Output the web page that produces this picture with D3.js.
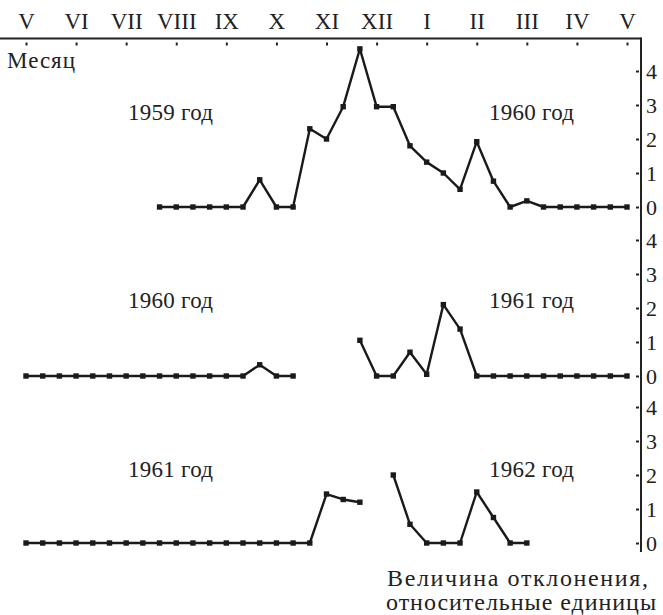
<!DOCTYPE html>
<html>
<head>
<meta charset="utf-8">
<script src="https://cdn.jsdelivr.net/npm/d3@7"></script>
<style>
  body { margin: 0; background: #fff; }
  svg text { font-family: "Liberation Serif", "Times New Roman", serif; fill: #222; }
  .axis path { display: none; }
  .axis line { stroke: #222; }
</style>
</head>
<body>
<div class="layout"></div>
<script>
// months along the top (V 1959 ... V 1960), one tick every 3 ten-day periods
var months = ["V", "VI", "VII", "VIII", "IX", "X", "XI", "XII", "I", "II", "III", "IV", "V"];
var yTicks = [0, 1, 2, 3, 4];

// ten-day period index (0..36) and deviation value, split into drawn segments
var p1959 = [
  [[8, 0], [9, 0], [10, 0], [11, 0], [12, 0], [13, 0], [14, 0.8], [15, 0], [16, 0],
   [17, 2.3], [18, 2.0], [19, 2.95], [20, 4.65], [21, 2.95], [22, 2.95], [23, 1.8],
   [24, 1.32], [25, 1.0], [26, 0.52], [27, 1.92], [28, 0.76], [29, 0], [30, 0.18],
   [31, 0], [32, 0], [33, 0], [34, 0], [35, 0], [36, 0]]
];
var p1960 = [
  [[0, 0], [1, 0], [2, 0], [3, 0], [4, 0], [5, 0], [6, 0], [7, 0], [8, 0], [9, 0],
   [10, 0], [11, 0], [12, 0], [13, 0], [14, 0.33], [15, 0], [16, 0]],
  [[20, 1.05], [21, 0], [22, 0], [23, 0.7], [24, 0.05], [25, 2.1], [26, 1.38],
   [27, 0], [28, 0], [29, 0], [30, 0], [31, 0], [32, 0], [33, 0], [34, 0], [35, 0], [36, 0]]
];
var p1961 = [
  [[0, 0], [1, 0], [2, 0], [3, 0], [4, 0], [5, 0], [6, 0], [7, 0], [8, 0], [9, 0],
   [10, 0], [11, 0], [12, 0], [13, 0], [14, 0], [15, 0], [16, 0], [17, 0],
   [18, 1.44], [19, 1.28], [20, 1.2]],
  [[22, 2.0], [23, 0.55], [24, 0], [25, 0], [26, 0], [27, 1.5], [28, 0.75], [29, 0], [30, 0]]
];
var leftYears = ["1959 год", "1960 год", "1961 год"];
var rightYears = ["1960 год", "1961 год", "1962 год"];

var width = 663, height = 615;
var axisX = 641, topY = 38.5;

var svg = d3.select(".layout").append("svg")
    .attr("width", width)
    .attr("height", height);

var x = d3.scaleLinear()
    .domain([0, 36])
    .range([26, 627]);

var panels = [
  {data: p1959, zero: 207, labelY: 120},
  {data: p1960, zero: 376, labelY: 308},
  {data: p1961, zero: 543, labelY: 477}
];

// frame: top rule and right vertical rule
svg.append("line")
    .attr("x1", 0).attr("x2", axisX)
    .attr("y1", topY).attr("y2", topY)
    .attr("stroke", "#222").attr("stroke-width", 2);
svg.append("line")
    .attr("x1", axisX).attr("x2", axisX)
    .attr("y1", topY - 1).attr("y2", 552)
    .attr("stroke", "#222").attr("stroke-width", 2);

var tickVals = months.map(function(d, i) { return i * 3; });

// month labels above the rule
svg.append("g")
    .attr("class", "axis")
    .attr("transform", "translate(0," + topY + ")")
    .call(d3.axisTop(x).tickValues(tickVals).tickSize(0).tickPadding(10)
        .tickFormat(function(d, i) { return months[i]; }))
    .selectAll("text")
    .style("font-size", "23px");

// small tick marks under the rule
svg.append("g")
    .attr("class", "axis")
    .attr("transform", "translate(0," + (topY + 4) + ")")
    .call(d3.axisBottom(x).tickValues(tickVals).tickSize(3).tickFormat(""))
    .selectAll("line").attr("stroke-width", 2);

svg.append("text")
    .attr("x", 7)
    .attr("y", 68)
    .attr("textLength", 68)
    .style("font-size", "23px")
    .text("Месяц");

var line = d3.line()
    .x(function(d) { return x(d[0]); });

panels.forEach(function(p, i) {
  var y = d3.scaleLinear().domain([0, 4]).range([p.zero, p.zero - 136]);

  // labels right of the rule
  svg.append("g")
      .attr("class", "axis")
      .attr("transform", "translate(" + axisX + ",0)")
      .call(d3.axisRight(y).tickValues(yTicks).tickSize(0).tickPadding(5).tickFormat(d3.format("d")))
      .selectAll("text")
      .style("font-size", "22px");

  // marks left of the rule
  svg.append("g")
      .attr("class", "axis")
      .attr("transform", "translate(" + (axisX - 2) + ",0)")
      .call(d3.axisLeft(y).tickValues(yTicks).tickSize(3).tickFormat(""))
      .selectAll("line").attr("stroke-width", 2);

  line.y(function(d) { return y(d[1]); });

  var g = svg.append("g");
  g.selectAll("path")
      .data(p.data)
      .enter().append("path")
      .attr("d", line)
      .attr("fill", "none")
      .attr("stroke", "#1a1a1a")
      .attr("stroke-width", 2.4)
      .attr("stroke-linejoin", "round");

  g.selectAll("rect")
      .data(d3.merge(p.data))
      .enter().append("rect")
      .attr("x", function(d) { return x(d[0]) - 2.7; })
      .attr("y", function(d) { return y(d[1]) - 2.7; })
      .attr("width", 5.4)
      .attr("height", 5.4)
      .attr("fill", "#1a1a1a");

  svg.append("text")
      .attr("x", 128).attr("y", p.labelY)
      .attr("textLength", 85)
      .style("font-size", "23px")
      .text(leftYears[i]);
  svg.append("text")
      .attr("x", 489).attr("y", p.labelY)
      .attr("textLength", 85)
      .style("font-size", "23px")
      .text(rightYears[i]);
});

svg.append("text")
    .attr("x", 387).attr("y", 586)
    .attr("textLength", 261)
    .style("font-size", "24px")
    .text("Величина отклонения,");
svg.append("text")
    .attr("x", 386).attr("y", 610)
    .attr("textLength", 270)
    .style("font-size", "24px")
    .text("относительные единицы");
</script>
</body>
</html>
